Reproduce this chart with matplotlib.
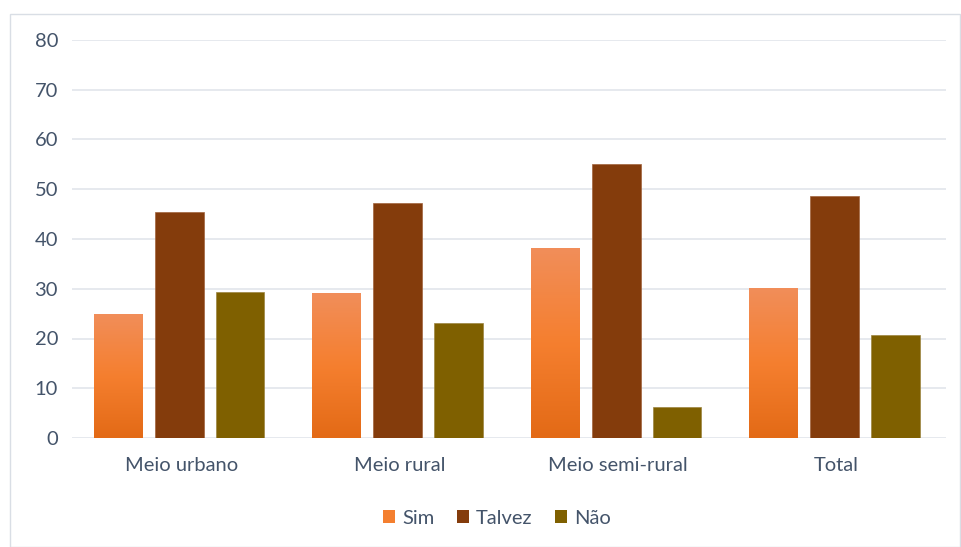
import numpy as np
import matplotlib
matplotlib.use('Agg')
import matplotlib.pyplot as plt
from matplotlib.patches import Rectangle, Patch
from matplotlib.colors import LinearSegmentedColormap

plt.rcParams['font.family'] = ['Lato', 'DejaVu Sans']

categories = ['Meio urbano', 'Meio rural', 'Meio semi-rural', 'Total']
series = ['Sim', 'Talvez', 'Não']
sim = [25.0, 29.1, 38.2, 30.2]
talvez = [45.4, 47.3, 55.1, 48.6]
nao = [29.3, 23.1, 6.2, 20.8]

TEXT = '#44546A'
GRID = '#E1E5EB'
sim_cmap = LinearSegmentedColormap.from_list('sim', ['#E36A16', '#F57F2F', '#F18E5A'])

fig = plt.figure(figsize=(9.61, 5.47), dpi=100)
ax = fig.add_axes([72 / 961, 1 - 438 / 547, 874 / 961, 398 / 547])

# outer chart frame
fig.patches.append(Rectangle((10 / 961, 0), 950 / 961, 1 - 14 / 547,
                             transform=fig.transFigure, fill=False,
                             edgecolor='#D9DEE5', linewidth=1.0))

x = np.arange(len(categories)) - 0.01
w = 0.224
step = 0.279

sim_bars = ax.bar(x - step, sim, w, color='none', edgecolor='none')
ax.bar(x, talvez, w, color='#843C0C', edgecolor='#A0633C', linewidth=0.5, zorder=2)
ax.bar(x + step, nao, w, color='#7F6000', edgecolor='#9C8440', linewidth=0.5, zorder=2)

# vertical gradient inside each "Sim" bar
grad = np.linspace(0, 1, 256).reshape(-1, 1)
for b in sim_bars:
    x0, y0 = b.get_x(), b.get_y()
    im = ax.imshow(grad, cmap=sim_cmap, origin='lower', aspect='auto',
                   extent=[x0, x0 + b.get_width(), y0, y0 + b.get_height()], zorder=2)
    im.set_clip_path(b)

ax.set_xlim(-0.5, len(categories) - 0.5)
ax.set_ylim(0, 80)
ax.set_yticks(range(0, 81, 10))
ax.set_xticks(np.arange(len(categories)))
ax.set_xticklabels(categories)
ax.tick_params(axis='both', length=0, labelsize=14.5, colors=TEXT)
ax.tick_params(axis='y', pad=10)
ax.tick_params(axis='x', pad=14)
ax.grid(axis='y', color=GRID, linewidth=1.2)
ax.set_axisbelow(True)
for s in ax.spines.values():
    s.set_visible(False)

handles = [Patch(facecolor='#F47F2F', label='Sim'),
           Patch(facecolor='#843C0C', label='Talvez'),
           Patch(facecolor='#7F6000', label='Não')]
fig.legend(handles=handles, loc='center', bbox_to_anchor=(497 / 961, 1 - 518 / 547),
           ncol=3, frameon=False, fontsize=14.5, labelcolor=TEXT,
           handlelength=0.6, handleheight=0.6, handletextpad=0.35, columnspacing=1.1)

fig.savefig('out.png', dpi=100)
